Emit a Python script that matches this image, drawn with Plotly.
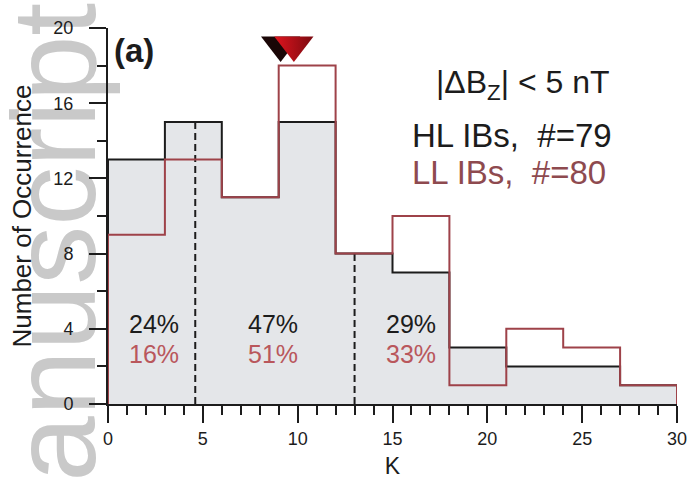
import numpy as np
import plotly.graph_objects as go

# K histogram, bins of width 3 from 0 to 30
bin_edges = [0, 3, 6, 9, 12, 15, 18, 21, 24, 27, 30]
hl_counts = [13, 15, 11, 15, 8, 7, 3, 2, 2, 1]
ll_counts = [9, 13, 11, 18, 8, 10, 1, 4, 3, 1]

# medians marked with triangles at the top
hl_median = 9.1
ll_median = 9.8
median_marker_y = 19.1

# dividing K values (dashed lines) and the fractions in each region
split_k = [4.6, 13.0]
split_height = [15, 8]
region_x = [2.45, 8.7, 16.0]
hl_pct = ["24%", "47%", "29%"]
ll_pct = ["16%", "51%", "33%"]

FONT = "Liberation Sans"
BLACK = "#1c1c1c"
RED_LINE = "#9e4249"
RED_TEXT = "#b9575c"
FILL = "#e4e6e9"


def step_xy(edges, counts):
    xs, ys = [edges[0]], [0]
    for i, c in enumerate(counts):
        xs += [edges[i], edges[i + 1]]
        ys += [c, c]
    xs.append(edges[-1])
    ys.append(0)
    return np.array(xs, float), np.array(ys, float)


fig = go.Figure()

# HL histogram: filled grey
hx, hy = step_xy(bin_edges, hl_counts)
fig.add_trace(go.Scatter(x=hx, y=hy, mode="lines", fill="tozeroy",
                         fillcolor=FILL, line=dict(color=BLACK, width=2),
                         hoverinfo="skip", showlegend=False))

# dashed separators
for k, h in zip(split_k, split_height):
    fig.add_trace(go.Scatter(x=[k, k], y=[0, h], mode="lines",
                             line=dict(color=BLACK, width=2, dash="7px,4px"),
                             hoverinfo="skip", showlegend=False))

# LL histogram: red outline
lx, ly = step_xy(bin_edges, ll_counts)
fig.add_trace(go.Scatter(x=lx, y=ly, mode="lines",
                         line=dict(color=RED_LINE, width=2),
                         hoverinfo="skip", showlegend=False))

# median markers
fig.add_trace(go.Scatter(x=[hl_median], y=[median_marker_y], mode="markers",
                         marker=dict(symbol="triangle-down", size=34, color="#1a0606",
                                     line=dict(width=0)),
                         hoverinfo="skip", showlegend=False))
fig.add_trace(go.Scatter(x=[ll_median], y=[median_marker_y], mode="markers",
                         marker=dict(symbol="triangle-down", size=34, color="#e0141e",
                                     gradient=dict(type="horizontal", color="#7a0a10"),
                                     line=dict(width=0)),
                         hoverinfo="skip", showlegend=False))

# percentage labels
for xk, a, b in zip(region_x, hl_pct, ll_pct):
    fig.add_annotation(x=xk, y=4.25, text=a, showarrow=False,
                       font=dict(family=FONT, size=25, color=BLACK))
    fig.add_annotation(x=xk, y=2.65, text=b, showarrow=False,
                       font=dict(family=FONT, size=25, color=RED_TEXT))

# panel label and criteria text
fig.add_annotation(x=0.2, y=18.8, text="<b>(a)</b>", showarrow=False, xanchor="left",
                   font=dict(family=FONT, size=33, color=BLACK))
fig.add_annotation(x=21.9, y=17.0, text="|ΔB<sub>Z</sub>| < 5 nT", showarrow=False,
                   font=dict(family=FONT, size=32, color=BLACK))
fig.add_annotation(x=15.9, y=14.3, text="HL IBs,  #=79", showarrow=False, xanchor="left",
                   font=dict(family=FONT, size=33, color=BLACK))
fig.add_annotation(x=15.9, y=12.3, text="LL IBs,  #=80", showarrow=False, xanchor="left",
                   font=dict(family=FONT, size=33, color="#8e4a4f"))

# watermark text along the left edge, kept beneath the axes
fig.add_shape(type="rect", xref="paper", yref="paper",
              x0=-0.22, x1=-0.008, y0=0.2, y1=0.66,
              line=dict(width=0), fillcolor="rgba(0,0,0,0)", layer="below",
              label=dict(text="anuscript", textangle=-90, textposition="middle center",
                         font=dict(family=FONT, size=118, color="#c9c9c9")))

axis_common = dict(showgrid=False, zeroline=False, showline=True, linecolor=BLACK,
                   linewidth=2, ticks="outside", ticklen=17, tickwidth=2,
                   tickcolor=BLACK, tickfont=dict(family=FONT, size=18, color=BLACK))

fig.update_xaxes(range=[0, 30], tickvals=[0, 5, 10, 15, 20, 25, 30],
                 minor=dict(dtick=1, tick0=0, ticks="outside", ticklen=9,
                            tickwidth=2, tickcolor=BLACK),
                 title=dict(text="K", font=dict(family=FONT, size=23, color=BLACK),
                            standoff=10),
                 **axis_common)
fig.update_yaxes(range=[0, 20], tickvals=[0, 4, 8, 12, 16, 20],
                 minor=dict(dtick=2, tick0=0, ticks="outside", ticklen=9,
                            tickwidth=2, tickcolor=BLACK),
                 title=dict(text="Number of Occurrence",
                            font=dict(family=FONT, size=26, color=BLACK), standoff=14),
                 ticklabelstandoff=12,
                 **axis_common)

fig.update_layout(width=699, height=487, margin=dict(l=108, r=14, t=28, b=82),
                  plot_bgcolor="white", paper_bgcolor="white")

fig.write_html("out.html")
